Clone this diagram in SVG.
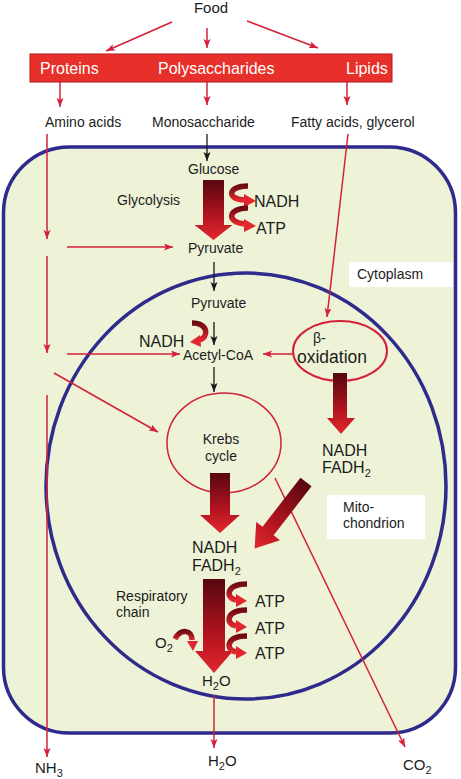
<svg xmlns="http://www.w3.org/2000/svg" width="461" height="779" viewBox="0 0 461 779">
<style>
text{font-family:"Liberation Sans",Arial,sans-serif;fill:#1c1c1c;}
.t14{font-size:14px;}
.t16{font-size:16px;}
.w{fill:#ffffff;font-size:16px;}
.red{stroke:#d4203a;stroke-width:1.5;fill:none;}
.blk{stroke:#1a1a1a;stroke-width:1.3;fill:none;}
.big{fill:url(#bigGrad);}
.curl{fill:none;stroke:url(#curlGrad);stroke-width:5.5;}
.head{fill:#e2262f;}
.memb{fill:none;stroke:#2f2b8c;stroke-width:3.5;}
</style>
<defs>
<linearGradient id="bigGrad" x1="0" y1="0" x2="0" y2="1">
<stop offset="0" stop-color="#560710"/>
<stop offset="0.6" stop-color="#b3141f"/>
<stop offset="1" stop-color="#e2262e"/>
</linearGradient>
<linearGradient id="curlGrad" x1="0" y1="0" x2="0" y2="1">
<stop offset="0" stop-color="#6e0a13"/>
<stop offset="1" stop-color="#e2262e"/>
</linearGradient>
<marker id="ar" markerUnits="userSpaceOnUse" markerWidth="10" markerHeight="8" refX="9" refY="3.5" orient="auto">
<path d="M0,0 L9,3.5 L0,7 L2,3.5 Z" fill="#d4203a"/>
</marker>
<marker id="ab" markerUnits="userSpaceOnUse" markerWidth="10" markerHeight="8" refX="9" refY="3.5" orient="auto">
<path d="M0,0 L9,3.5 L0,7 L2,3.5 Z" fill="#1a1a1a"/>
</marker>
</defs>

<g id="cell">
<rect x="3.5" y="147" width="452" height="586" rx="66" ry="66" fill="#eef3d7" stroke="#2f2b8c" stroke-width="3.5"/>
</g>
<g id="mitochondrion">
<ellipse cx="246" cy="486" rx="200" ry="213" class="memb" stroke-width="3"/>
</g>

<g id="cytoplasm-label">
<rect x="349" y="262" width="104" height="25" fill="#ffffff"/>
<text x="357" y="279" class="t14">Cytoplasm</text>
</g>
<g id="mito-label">
<rect x="327" y="495" width="98" height="44" fill="#ffffff"/>
<text x="343" y="512" class="t14">Mito-</text>
<text x="343" y="528" class="t14">chondrion</text>
</g>

<g id="connectors">
<line x1="172" y1="22" x2="106" y2="51" class="red" marker-end="url(#ar)"/>
<line x1="207" y1="28" x2="207" y2="48" class="red" marker-end="url(#ar)"/>
<line x1="247" y1="21" x2="318" y2="48" class="red" marker-end="url(#ar)"/>
<line x1="60" y1="82" x2="60" y2="107" class="red" marker-end="url(#ar)"/>
<line x1="207" y1="82" x2="207" y2="105" class="red" marker-end="url(#ar)"/>
<line x1="347" y1="82" x2="347" y2="105" class="red" marker-end="url(#ar)"/>
<line x1="207" y1="134" x2="207" y2="161" class="blk" marker-end="url(#ab)"/>
<line x1="348" y1="134" x2="327" y2="317" class="red" marker-end="url(#ar)"/>
<line x1="47" y1="134" x2="47" y2="239" class="red" marker-end="url(#ar)"/>
<line x1="47" y1="256" x2="47" y2="353" class="red" marker-end="url(#ar)"/>
<line x1="47" y1="395" x2="47" y2="757" class="red" marker-end="url(#ar)"/>
<line x1="67" y1="247" x2="173" y2="247" class="red" marker-end="url(#ar)"/>
<line x1="67" y1="354" x2="180" y2="354" class="red" marker-end="url(#ar)"/>
<line x1="54" y1="373" x2="158" y2="432" class="red" marker-end="url(#ar)"/>
<line x1="293" y1="354" x2="263" y2="354" class="red" marker-end="url(#ar)"/>
<line x1="214" y1="262" x2="214" y2="291" class="blk" marker-end="url(#ab)"/>
<line x1="214" y1="322" x2="214" y2="345" class="blk" marker-end="url(#ab)"/>
<line x1="214" y1="367" x2="214" y2="392" class="blk" marker-end="url(#ab)"/>
<line x1="275" y1="478" x2="405" y2="747" class="red" marker-end="url(#ar)"/>
<line x1="214" y1="695" x2="214" y2="748" class="red" marker-end="url(#ar)"/>
</g>

<g id="food">
<text x="211" y="13" text-anchor="middle" style="font-size:15px">Food</text>
</g>
<g id="food-classes">
<rect x="30" y="54" width="362" height="28" fill="#e8302a" stroke="#b3151c" stroke-width="1"/>
<text x="40" y="74" class="w">Proteins</text>
<text x="158" y="74" class="w">Polysaccharides</text>
<text x="346" y="74" class="w">Lipids</text>
</g>
<g id="amino-acids"><text x="45" y="127" class="t14">Amino acids</text></g>
<g id="monosaccharide"><text x="152" y="127" class="t14">Monosaccharide</text></g>
<g id="fatty-acids"><text x="291" y="127" class="t14">Fatty acids, glycerol</text></g>

<g id="glycolysis">
<text x="188" y="174" class="t14">Glucose</text>
<text x="117" y="205" class="t14">Glycolysis</text>
<path d="M203,180 H224 V225 H232.5 L213.5,240 L194.5,225 H203 Z" class="big"/>
<path d="M248,186 C228,186 226,199 244,200" class="curl"/>
<polygon points="256,201 244,194 244,207" class="head"/>
<path d="M248,208 C228,208 226,222 244,224" class="curl"/>
<polygon points="256,226 244,219 244,232" class="head"/>
<text x="254" y="207" class="t16">NADH</text>
<text x="256" y="234" class="t16">ATP</text>
<text x="188" y="253" class="t14">Pyruvate</text>
</g>

<g id="pdh">
<text x="191" y="308" class="t14">Pyruvate</text>
<path d="M192,323 C209,323 209,338 199,340" class="curl"/>
<polygon points="190,342 200,335 201,347" class="head"/>
<text x="139" y="347" class="t16">NADH</text>
<text x="183" y="360" class="t14">Acetyl-CoA</text>
</g>

<g id="beta-oxidation">
<ellipse cx="340" cy="351" rx="47" ry="30" fill="none" stroke="#d4203a" stroke-width="2"/>
<text x="313" y="343" style="font-size:14px">β-</text>
<text x="297" y="363" style="font-size:17.5px">oxidation</text>
<path d="M333,373 H347 V418 H355 L341,434 L327,418 H333 Z" class="big"/>
<text x="322" y="456" class="t16">NADH</text>
<text x="322" y="473" class="t16">FADH<tspan dy="4" style="font-size:11px">2</tspan></text>
<path d="M-7,0 H7 V62 H15 L0,84 L-15,62 H-7 Z" class="big" transform="translate(306,482) rotate(37.7)"/>
</g>

<g id="krebs">
<ellipse cx="224" cy="443" rx="57" ry="50" fill="none" stroke="#d4203a" stroke-width="1.5"/>
<text x="221" y="444" class="t14" text-anchor="middle">Krebs</text>
<text x="221" y="461" class="t14" text-anchor="middle">cycle</text>
<path d="M210,473 H230 V515 H240 L220,533 L200,515 H210 Z" class="big"/>
</g>

<g id="respiratory-chain">
<text x="192" y="553" class="t16">NADH</text>
<text x="192" y="571" class="t16">FADH<tspan dy="4" style="font-size:11px">2</tspan></text>
<text x="116" y="601" class="t14">Respiratory</text>
<text x="116" y="617" class="t14">chain</text>
<path d="M203,579 H225 V651 H233 L214,673 L195,651 H203 Z" class="big"/>
<path d="M247,584 C226,584 225,598 236,600" class="curl"/>
<polygon points="247,601 236,594 236,607" class="head"/>
<path d="M247,610 C226,610 225,624 236,626" class="curl"/>
<polygon points="247,627 236,620 236,633" class="head"/>
<path d="M247,636 C226,636 225,650 236,652" class="curl"/>
<polygon points="247,653 236,646 236,659" class="head"/>
<text x="255" y="607" class="t16">ATP</text>
<text x="255" y="634" class="t16">ATP</text>
<text x="255" y="659" class="t16">ATP</text>
<path d="M175,639 C181,628 192,630 192,640" class="curl"/>
<polygon points="193,651 187,641 198,641" class="head"/>
<text x="155" y="648" style="font-size:15px">O<tspan dy="4" style="font-size:11px">2</tspan></text>
<text x="202" y="686" style="font-size:15px">H<tspan dy="4" style="font-size:11px">2</tspan><tspan dy="-4">O</tspan></text>
</g>

<g id="products">
<text x="35" y="773" style="font-size:15px">NH<tspan dy="4" style="font-size:11px">3</tspan></text>
<text x="208" y="766" style="font-size:15px">H<tspan dy="4" style="font-size:11px">2</tspan><tspan dy="-4">O</tspan></text>
<text x="403" y="770" style="font-size:15px">CO<tspan dy="4" style="font-size:11px">2</tspan></text>
</g>
</svg>
